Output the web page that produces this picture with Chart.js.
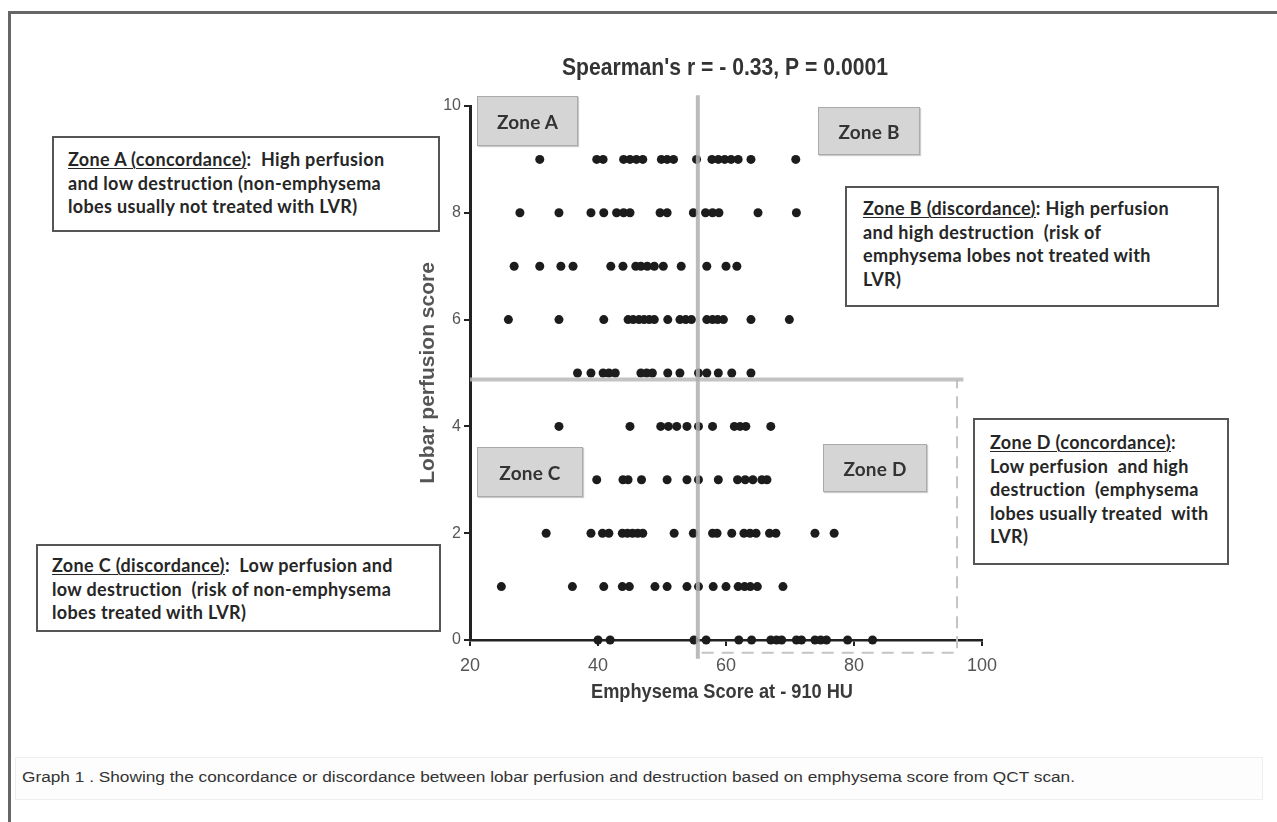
<!DOCTYPE html>
<html>
<head>
<meta charset="utf-8">
<script src="https://cdn.jsdelivr.net/npm/chart.js@4.4.1/dist/chart.umd.min.js"></script>
<style>
  html, body { margin:0; padding:0; background:#fff; }
  body { width:1277px; height:822px; position:relative; overflow:hidden; }
  #frame { position:absolute; left:8px; top:11px; width:1280px; height:830px; border-top:3px solid #666; border-left:3px solid #666; box-sizing:border-box; }
  #chart { position:absolute; left:0; top:0; }
  .zone { position:absolute; background:#d5d5d5; border:1px solid #aaa; box-shadow:1px 1px 1px #ccc;
          font-family:Lato, "Open Sans", sans-serif; font-weight:700; font-size:19px; letter-spacing:0.2px; color:#333;
          display:flex; align-items:center; justify-content:center; box-sizing:border-box; }
  .note { position:absolute; background:#fff; border:2px solid #555; box-sizing:border-box;
          font-family:Lato, "Open Sans", sans-serif; font-weight:700; font-size:18px; letter-spacing:0.35px; line-height:23.5px; color:#262626; white-space:nowrap; }
  .note u { text-decoration-thickness:1px; text-underline-offset:2px; }
  #caption { position:absolute; left:15px; top:757px; width:1248px; height:43px; border:1px solid #eee; background:#fdfdfd; box-sizing:border-box; }
  #captionText { position:absolute; left:22px; top:769px; font-family:"Liberation Sans Narrow","Liberation Sans",Arial,sans-serif; font-size:14px; color:#333; white-space:nowrap; transform-origin:0 0; }
</style>
</head>
<body>
<div id="frame"></div>
<canvas id="chart" width="1277" height="822"></canvas>

<div class="zone" style="left:477px;top:96px;width:101px;height:50px;">Zone A</div>
<div class="zone" style="left:818px;top:107px;width:102px;height:48px;">Zone B</div>
<div class="zone" style="left:477px;top:447px;width:106px;height:50px;">Zone C</div>
<div class="zone" style="left:823px;top:444px;width:104px;height:48px;">Zone D</div>

<div class="note" style="left:52px;top:136px;width:388px;height:96px;padding:10px 0 0 14px;"><u>Zone A (concordance)</u>:&nbsp; High perfusion<br>and low destruction (non-emphysema<br>lobes usually not treated with LVR)</div>
<div class="note" style="left:845px;top:186px;width:374px;height:121px;padding:9px 0 0 16px;"><u>Zone B (discordance)</u>: High perfusion<br>and high destruction&nbsp; (risk of<br>emphysema lobes not treated with<br>LVR)</div>
<div class="note" style="left:36px;top:544px;width:405px;height:88px;padding:8px 0 0 14px;"><u>Zone C (discordance)</u>:&nbsp; Low perfusion and<br>low destruction&nbsp; (risk of non-emphysema<br>lobes treated with LVR)</div>
<div class="note" style="left:973px;top:418px;width:256px;height:147px;padding:11px 0 0 15px;"><u>Zone D (concordance)</u>:<br>Low perfusion&nbsp; and high<br>destruction&nbsp; (emphysema<br>lobes usually treated&nbsp; with<br>LVR)</div>

<div id="caption"></div>
<div id="captionText">Graph 1 . Showing the concordance or discordance between lobar perfusion and destruction based on emphysema score from QCT scan.</div>

<script>
// ---- data: emphysema score (x) for lobes at each lobar perfusion score (y) ----
const perfusionLevels = [9, 8, 7, 6, 5, 4, 3, 2, 1, 0];
const emphysemaAtPerf9 = [30.9, 39.8, 40.8, 44.0, 45.0, 46.0, 47.0, 49.9, 50.8, 51.8, 55.4, 57.8, 58.8, 59.8, 60.8, 61.9, 63.9, 70.9];
const emphysemaAtPerf8 = [27.8, 33.9, 38.9, 40.9, 42.9, 44.0, 45.0, 49.7, 50.8, 54.9, 56.8, 57.9, 58.9, 65.0, 71.0];
const emphysemaAtPerf7 = [26.9, 30.9, 34.2, 36.1, 42.0, 43.9, 45.9, 46.7, 47.7, 48.8, 50.2, 53.0, 57.0, 60.0, 61.7];
const emphysemaAtPerf6 = [26.0, 33.9, 40.9, 44.7, 45.5, 46.4, 47.2, 48.0, 48.8, 50.9, 52.8, 53.7, 54.6, 57.0, 57.9, 58.7, 59.6, 63.9, 69.9];
const emphysemaAtPerf5 = [36.8, 38.9, 40.8, 41.7, 42.7, 46.7, 47.6, 48.5, 50.9, 52.8, 55.7, 57.0, 58.8, 60.9, 63.9];
const emphysemaAtPerf4 = [33.9, 45.0, 49.8, 51.0, 52.3, 53.9, 55.7, 57.9, 61.3, 62.2, 63.1, 67.0];
const emphysemaAtPerf3 = [39.8, 43.9, 44.7, 46.8, 50.8, 53.9, 55.7, 58.8, 61.8, 63.0, 64.2, 65.6, 66.4];
const emphysemaAtPerf2 = [31.9, 38.9, 40.7, 41.7, 43.8, 44.6, 45.4, 46.2, 47.0, 51.9, 54.9, 57.9, 58.6, 60.9, 62.8, 63.75, 64.7, 66.8, 67.8, 73.9, 76.9];
const emphysemaAtPerf1 = [24.9, 36.0, 40.9, 43.8, 44.9, 48.9, 50.8, 53.9, 55.7, 58.0, 60.0, 61.9, 62.9, 63.8, 64.9, 68.9];
const emphysemaAtPerf0 = [40.0, 41.9, 55.0, 56.9, 62.0, 64.0, 67.0, 67.9, 68.7, 71.0, 71.8, 73.9, 74.8, 75.7, 79.0, 82.9];
const emphysemaRows = [emphysemaAtPerf9, emphysemaAtPerf8, emphysemaAtPerf7, emphysemaAtPerf6, emphysemaAtPerf5,
                       emphysemaAtPerf4, emphysemaAtPerf3, emphysemaAtPerf2, emphysemaAtPerf1, emphysemaAtPerf0];

// zone dividers
const emphysemaCutoff = 55.6;
const perfusionCutoff = 4.88;
const dividerXRange = [20, 97.1];
const dividerYRange = [-0.35, 10.2];
const dashedCorner = [96.1, -0.24];

const xTicks = [20, 40, 60, 80, 100];
const yTicks = [0, 2, 4, 6, 8, 10];
const titleText = "Spearman's r = - 0.33, P = 0.0001";
const xTitle = "Emphysema Score at - 910 HU";
const yTitle = "Lobar perfusion score";

const points = [];
perfusionLevels.forEach((p, i) => emphysemaRows[i].forEach(e => points.push({x: e, y: p})));

const textPlugin = {
  id: 'texts',
  afterDraw(chart) {
    const {ctx, chartArea} = chart;
    const cx = (chartArea.left + chartArea.right) / 2;
    ctx.save();
    ctx.textAlign = 'center';
    ctx.textBaseline = 'middle';
    ctx.fillStyle = '#333';
    ctx.font = 'bold 24px "Liberation Sans Narrow", "Liberation Sans", Arial, sans-serif';
    ctx.fillText(titleText, cx - 1, 68, 326);
    ctx.font = 'bold 21px "Liberation Sans Narrow", "Liberation Sans", Arial, sans-serif';
    ctx.fillStyle = '#3a3a3a';
    ctx.fillText(xTitle, cx - 4, 692, 262);
    ctx.translate(428, 373);
    ctx.rotate(-Math.PI / 2);
    ctx.fillStyle = '#555';
    ctx.font = 'bold 21px "Liberation Sans", Arial, sans-serif';
    ctx.fillText(yTitle, 0, 0, 247);
    ctx.restore();
  }
};

const tickFont = {family: '"Liberation Sans Narrow", "Liberation Sans", Arial, sans-serif', size: 17};

new Chart(document.getElementById('chart'), {
  type: 'scatter',
  data: {
    datasets: [
      { label: 'vertical divider', showLine: true, order: 0, clip: false,
        data: [{x: emphysemaCutoff, y: dividerYRange[0]}, {x: emphysemaCutoff, y: dividerYRange[1]}],
        borderColor: 'rgba(175,175,175,0.85)', borderWidth: 4, pointRadius: 0 },
      { label: 'horizontal divider', showLine: true, order: 0, clip: false,
        data: [{x: dividerXRange[0], y: perfusionCutoff}, {x: dividerXRange[1], y: perfusionCutoff}],
        borderColor: 'rgba(185,185,185,0.85)', borderWidth: 4, pointRadius: 0 },
      { label: 'zone D outline', showLine: true, order: 0, clip: false,
        data: [{x: emphysemaCutoff + 0.6, y: dashedCorner[1]}, {x: dashedCorner[0], y: dashedCorner[1]}, {x: dashedCorner[0], y: perfusionCutoff}],
        borderColor: '#c4c4c4', borderWidth: 2, borderDash: [12, 8], pointRadius: 0 },
      { label: 'lobes', order: 1, clip: false, data: points,
        backgroundColor: '#1c1c1c', borderColor: '#1c1c1c', borderWidth: 0, pointRadius: 4.5 }
    ]
  },
  options: {
    responsive: false,
    animation: false,
    devicePixelRatio: 1,
    layout: { padding: { left: 412, right: 295, top: 106, bottom: 112 } },
    plugins: { legend: { display: false }, tooltip: { enabled: false }, title: { display: false } },
    scales: {
      x: {
        type: 'linear', min: 20, max: 100,
        afterBuildTicks: s => { s.ticks = xTicks.map(v => ({value: v})); },
        afterFit: s => { s.height = 70; },
        ticks: { color: '#555', font: {family: tickFont.family, size: 18}, padding: 9 },
        grid: { display: true, drawOnChartArea: false, drawTicks: true, tickLength: 6, color: '#222', lineWidth: 2 },
        border: { display: true, color: '#222', width: 2.5 }
      },
      y: {
        type: 'linear', min: 0, max: 10,
        afterBuildTicks: s => { s.ticks = yTicks.map(v => ({value: v})); },
        afterFit: s => { s.width = 58; },
        ticks: { color: '#555', font: {family: tickFont.family, size: 16}, padding: 3 },
        grid: { display: true, drawOnChartArea: false, drawTicks: true, tickLength: 6, color: '#222', lineWidth: 2 },
        border: { display: true, color: '#222', width: 3 }
      }
    }
  },
  plugins: [textPlugin]
});

// fit the caption to its measured width in the reference
const cap = document.getElementById('captionText');
const w = cap.getBoundingClientRect().width;
cap.style.transform = 'scaleX(' + (1053 / w) + ')';
</script>
</body>
</html>
